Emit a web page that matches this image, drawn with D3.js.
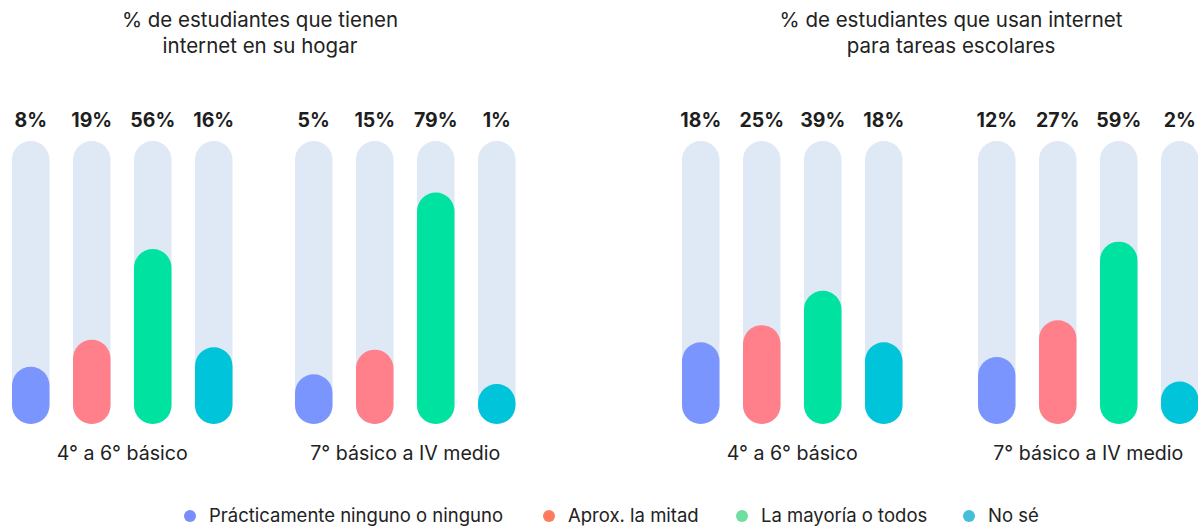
<!DOCTYPE html>
<html><head><meta charset="utf-8">
<script src="https://cdn.jsdelivr.net/npm/d3@7"></script>
<style>
html,body{margin:0;padding:0;background:#fff;}
svg{display:block;font-family:Inter, "Noto Sans", sans-serif;}
</style></head>
<body><svg id="c" width="1198" height="526"></svg>
<script>
// ---- data ----
const categories = ["Prácticamente ninguno o ninguno", "Aprox. la mitad", "La mayoría o todos", "No sé"];
const panelTitles = [
  ["% de estudiantes que tienen", "internet en su hogar"],
  ["% de estudiantes que usan internet", "para tareas escolares"]
];
const groupLabels = ["4° a 6° básico", "7° básico a IV medio"];
const hogar_4a6 = [8, 19, 56, 16];
const hogar_7aIV = [5, 15, 79, 1];
const tareas_4a6 = [18, 25, 39, 18];
const tareas_7aIV = [12, 27, 59, 2];
const barColors = ["#7b95ff", "#ff7f8a", "#00e3a0", "#00c4d9"];
const legendColors = ["#7b8cfb", "#ff7b5e", "#6fdf9f", "#45bfd9"];

// ---- layout ----
const svg = d3.select("#c");
const barW = 37.5, step = 61;
const trackTop = 141, trackBottom = 424;
const groupStarts = [12, 295, 682, 978];
const titleCenters = [260, 951];
const seriesSets = [hogar_4a6, hogar_7aIV, tareas_4a6, tareas_7aIV];

const x = d3.scaleBand().domain(categories)
  .range([0, 3 * step + barW]).paddingInner((step - barW) / step).paddingOuter(0);
const y = d3.scaleLinear().domain([0, 100]).range([0, (trackBottom - trackTop) - barW]);

// titles
panelTitles.forEach((lines, i) => {
  const t = svg.append("text").attr("text-anchor", "middle")
    .attr("font-size", 20.5).attr("fill", "#222");
  lines.forEach((l, j) => t.append("tspan").attr("x", titleCenters[i]).attr("y", 27 + j * 26).text(l));
});

seriesSets.forEach((vals, gi) => {
  const g = svg.append("g").attr("transform", `translate(${groupStarts[gi]},0)`);
  const data = categories.map((c, i) => ({c, v: vals[i], color: barColors[i]}));
  // tracks
  g.selectAll("rect.track").data(data).join("rect").attr("class", "track")
    .attr("x", d => x(d.c)).attr("width", x.bandwidth())
    .attr("y", trackTop).attr("height", trackBottom - trackTop)
    .attr("rx", x.bandwidth() / 2).attr("fill", "#dfe8f5");
  // fills
  g.selectAll("rect.fill").data(data).join("rect").attr("class", "fill")
    .attr("x", d => x(d.c)).attr("width", x.bandwidth())
    .attr("y", d => trackBottom - barW - y(d.v)).attr("height", d => barW + y(d.v))
    .attr("rx", x.bandwidth() / 2).attr("fill", d => d.color);
  // value labels
  g.selectAll("text.val").data(data).join("text").attr("class", "val")
    .attr("x", d => x(d.c) + x.bandwidth() / 2).attr("y", 127)
    .attr("text-anchor", "middle").attr("font-size", 19.5).attr("font-weight", 700)
    .attr("fill", "#1e1e1e").text(d => d.v + "%");
  // group label
  g.append("text").attr("x", (x.range()[0] + x.range()[1]) / 2).attr("y", 460)
    .attr("text-anchor", "middle").attr("font-size", 19.6).attr("fill", "#222")
    .text(groupLabels[gi % 2]);
});

// legend
const legendX = [190, 549, 742, 969];
const lg = svg.append("g");
categories.forEach((c, i) => {
  lg.append("circle").attr("cx", legendX[i]).attr("cy", 516).attr("r", 6).attr("fill", legendColors[i]);
  lg.append("text").attr("x", legendX[i] + 19).attr("y", 522).attr("font-size", 18.5)
    .attr("fill", "#222").text(c);
});
</script></body></html>
